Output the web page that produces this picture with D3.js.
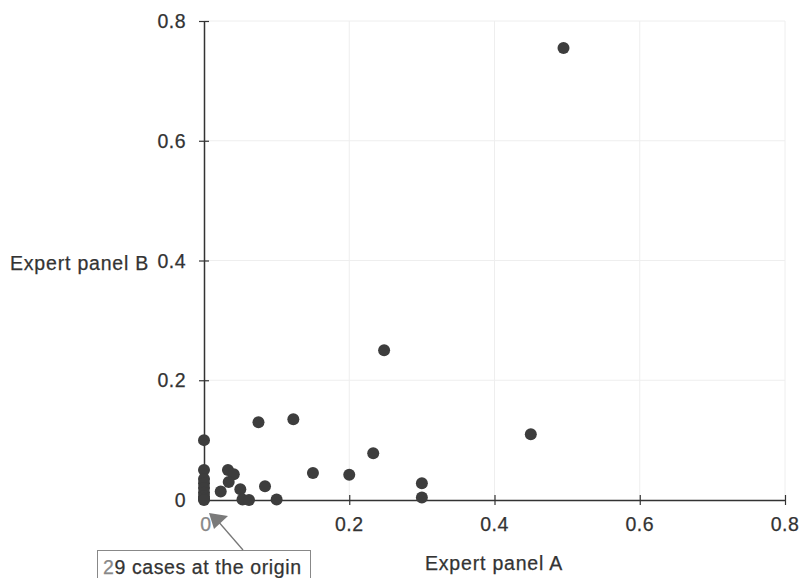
<!DOCTYPE html>
<html>
<head>
<meta charset="utf-8">
<script src="https://cdn.jsdelivr.net/npm/d3@7"></script>
<style>
  body { margin: 0; background: #fff; }
  svg text { font-family: "Liberation Sans", Arial, sans-serif; fill: #333; stroke: #333; stroke-width: 0.25px; }
</style>
</head>
<body>
<svg id="chart" width="802" height="578"></svg>
<script>
// Scores given by expert panel A (x) and expert panel B (y)
const panelA = [0.495, 0.248, 0.45, 0.233, 0.3, 0.3, 0.123, 0.15, 0.2, 0.075,
  0, 0, 0, 0, 0, 0, 0, 0,
  0.033, 0.041, 0.034, 0.023, 0.05, 0.084, 0.053, 0.062, 0.1, 0];
const panelB = [0.755, 0.25, 0.11, 0.078, 0.028, 0.004, 0.135, 0.045, 0.042, 0.13,
  0.1, 0.05, 0.035, 0.028, 0.02, 0.012, 0.006, 0.002,
  0.05, 0.043, 0.03, 0.014, 0.018, 0.023, 0.001, 0.0, 0.001, 0];
const tickValues = [0, 0.2, 0.4, 0.6, 0.8];
const xTitle = "Expert panel A";
const yTitle = "Expert panel B";
const noteText = "29 cases at the origin";

const svg = d3.select("#chart");

// Scales
const x = d3.scaleLinear().domain([0, 0.8]).range([204, 785]);
const y = d3.scaleLinear().domain([0, 0.8]).range([500, 21]);

// Faint grid
const grid = svg.append("g").attr("stroke", "#eeeeee").attr("stroke-width", 1);
grid.selectAll("line.v")
  .data(tickValues.slice(1))
  .join("line")
  .attr("x1", (d) => x(d)).attr("x2", (d) => x(d))
  .attr("y1", y(0)).attr("y2", y(0.8));
grid.selectAll("line.h")
  .data(tickValues.slice(1))
  .join("line")
  .attr("y1", (d) => y(d)).attr("y2", (d) => y(d))
  .attr("x1", x(0)).attr("x2", x(0.8));

// Axes: ticks crossing the line
const xAxis = d3.axisBottom(x).tickValues(tickValues.slice(1))
  .tickSize(5).tickSizeOuter(0).tickFormat("");
const yAxis = d3.axisLeft(y).tickValues(tickValues.slice(1))
  .tickSize(5).tickSizeOuter(0).tickFormat("");

const gx = svg.append("g").attr("transform", `translate(0,${y(0)})`).call(xAxis);
const gy = svg.append("g").attr("transform", `translate(${x(0)},0)`).call(yAxis);
[gx, gy].forEach((g) => {
  g.select(".domain").attr("stroke", "#333").attr("stroke-width", 1.5);
  g.selectAll(".tick line").attr("stroke", "#333").attr("stroke-width", 1.2);
});
gx.selectAll(".tick line").attr("y1", -5);
gy.selectAll(".tick line").attr("x1", 5);

// Tick labels
svg.append("g").selectAll("text")
  .data(tickValues)
  .join("text")
  .attr("x", (d) => x(d) + (d === 0 ? 2 : 0))
  .attr("y", 531)
  .attr("text-anchor", "middle")
  .style("font-size", "19.5px")
  .style("letter-spacing", "0.5px")
  .style("fill", (d) => (d === 0 ? "#888" : "#333"))
  .style("stroke", (d) => (d === 0 ? "#888" : "#333"))
  .text((d) => d);

svg.append("g").selectAll("text")
  .data(tickValues)
  .join("text")
  .attr("x", 186)
  .attr("y", (d) => y(d) + 7)
  .attr("text-anchor", "end")
  .style("font-size", "19.5px")
  .style("letter-spacing", "0.5px")
  .text((d) => d);

// Axis titles
svg.append("text")
  .attr("x", 10).attr("y", 270)
  .style("font-size", "19.5px")
  .style("letter-spacing", "0.8px")
  .text(yTitle);
svg.append("text")
  .attr("x", 425).attr("y", 570)
  .style("font-size", "19.5px")
  .style("letter-spacing", "0.8px")
  .text(xTitle);

// Points
svg.append("g").selectAll("circle")
  .data(panelA.map((a, i) => [a, panelB[i]]))
  .join("circle")
  .attr("cx", (d) => x(d[0]))
  .attr("cy", (d) => y(d[1]))
  .attr("r", 6)
  .attr("fill", "#3d3d3d");

// Annotation box and arrow
svg.append("rect")
  .attr("x", 97.5).attr("y", 550.5)
  .attr("width", 213).attr("height", 40)
  .attr("fill", "#fff")
  .attr("stroke", "#888");
const note = svg.append("text")
  .attr("x", 103).attr("y", 574)
  .style("font-size", "19.5px")
  .style("letter-spacing", "0.6px");
note.append("tspan").style("fill", "#888").style("stroke", "#888").text(noteText.slice(0, 1));
note.append("tspan").text(noteText.slice(1));

svg.append("line")
  .attr("x1", 243).attr("y1", 550)
  .attr("x2", 217).attr("y2", 520)
  .attr("stroke", "#777").attr("stroke-width", 1.3);
svg.append("path")
  .attr("d", d3.line()([[209, 513], [228, 516], [214, 529]]))
  .attr("fill", "#7a7a7a");
</script>
</body>
</html>
